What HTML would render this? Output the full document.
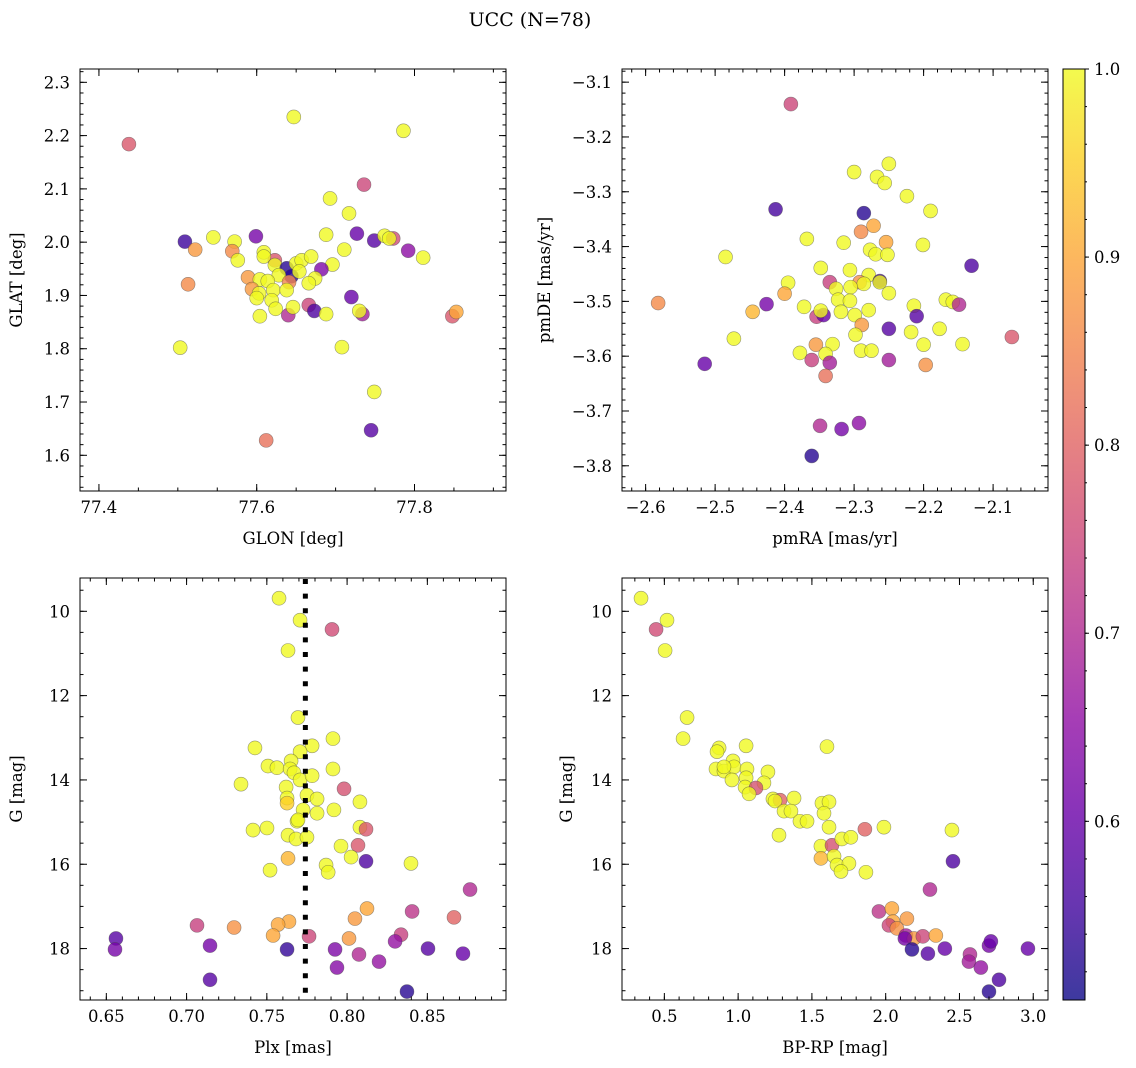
<!DOCTYPE html>
<html><head><meta charset="utf-8"><style>
html,body{margin:0;padding:0;background:#fff}
svg{display:block;font-family:"DejaVu Serif","Liberation Serif",serif}
</style></head><body>
<svg id="fig" width="1136" height="1068" viewBox="0 0 1136 1068" xmlns="http://www.w3.org/2000/svg">
<text x="530" y="26" text-anchor="middle" font-size="19">UCC (N=78)</text>
</svg>
<script>
// ---- data: top-left (GLON/GLAT)
const tlLon=[77.438,77.647,77.786,77.736,77.693,77.717,77.509,77.522,77.545,77.572,77.569,77.576,77.599,77.688,77.727,77.749,77.762,77.773,77.768,77.792,77.811,77.711,77.696,77.682,77.609,77.623,77.623,77.638,77.644,77.650,77.657,77.669,77.654,77.674,77.666,77.628,77.641,77.589,77.604,77.594,77.603,77.600,77.614,77.621,77.638,77.619,77.624,77.640,77.646,77.666,77.673,77.688,77.604,77.720,77.734,77.730,77.848,77.853,77.503,77.708,77.749,77.745,77.612,77.513,77.609];
const tlLat=[2.184,2.235,2.209,2.108,2.082,2.054,2.001,1.986,2.009,2.001,1.983,1.966,2.011,2.014,2.016,2.003,2.012,2.007,2.007,1.984,1.971,1.986,1.958,1.949,1.981,1.966,1.957,1.951,1.936,1.960,1.966,1.973,1.945,1.932,1.923,1.938,1.925,1.934,1.930,1.912,1.904,1.895,1.927,1.910,1.910,1.891,1.875,1.863,1.878,1.882,1.871,1.865,1.861,1.897,1.865,1.871,1.861,1.869,1.802,1.803,1.719,1.647,1.628,1.921,1.973];
const tlProb=[0.78,1,1,0.75,1,1,0.55,0.88,1,1,0.86,1,0.62,1,0.6,0.58,1,0.76,1,0.65,1,1,1,0.63,1,0.78,1,0.53,0.53,1,1,1,1,1,1,1,0.85,0.88,1,0.88,1,1,1,1,1,1,1,0.7,1,0.75,0.57,1,1,0.6,0.68,1,0.78,0.9,1,1,1,0.58,0.82,0.86,1];
// ---- data: top-right (pmRA/pmDE)
const trRA=[-2.391,-2.300,-2.250,-2.267,-2.256,-2.224,-2.190,-2.413,-2.286,-2.290,-2.272,-2.368,-2.315,-2.254,-2.277,-2.269,-2.252,-2.201,-2.485,-2.131,-2.348,-2.306,-2.279,-2.263,-2.263,-2.335,-2.292,-2.286,-2.395,-2.400,-2.326,-2.305,-2.250,-2.323,-2.306,-2.426,-2.582,-2.446,-2.372,-2.354,-2.344,-2.348,-2.319,-2.299,-2.279,-2.289,-2.214,-2.210,-2.168,-2.158,-2.149,-2.250,-2.177,-2.218,-2.473,-2.073,-2.298,-2.355,-2.331,-2.200,-2.144,-2.378,-2.341,-2.290,-2.275,-2.361,-2.335,-2.250,-2.515,-2.197,-2.341,-2.349,-2.318,-2.293,-2.361];
const trDE=[-3.140,-3.264,-3.249,-3.273,-3.284,-3.308,-3.335,-3.332,-3.339,-3.373,-3.362,-3.386,-3.393,-3.392,-3.406,-3.414,-3.415,-3.397,-3.419,-3.435,-3.439,-3.443,-3.452,-3.463,-3.465,-3.465,-3.465,-3.468,-3.466,-3.486,-3.477,-3.474,-3.485,-3.497,-3.499,-3.505,-3.503,-3.519,-3.510,-3.528,-3.525,-3.517,-3.519,-3.525,-3.516,-3.543,-3.508,-3.527,-3.497,-3.501,-3.506,-3.550,-3.550,-3.556,-3.568,-3.565,-3.561,-3.579,-3.578,-3.579,-3.578,-3.594,-3.596,-3.590,-3.590,-3.607,-3.612,-3.607,-3.614,-3.616,-3.636,-3.727,-3.733,-3.722,-3.782];
const trProb=[0.75,1,1,1,1,1,1,0.56,0.53,0.86,0.9,1,1,0.9,1,1,1,1,1,0.57,1,1,1,0.56,1,0.74,0.87,1,1,0.9,1,1,1,1,1,0.62,0.86,0.92,1,0.74,0.6,1,1,1,1,0.88,1,0.58,1,1,0.7,0.58,1,1,1,0.78,1,0.88,1,1,1,1,1,1,1,0.74,0.68,0.68,0.6,0.87,0.82,0.7,0.62,0.65,0.53];
// ---- data: bottom-left (Plx/G)
const blPlx=[0.7576,0.7707,0.7906,0.7632,0.7694,0.7912,0.7782,0.7426,0.7707,0.7507,0.7563,0.7651,0.7645,0.7669,0.7912,0.7707,0.7782,0.7339,0.7620,0.7981,0.7626,0.7750,0.7813,0.7626,0.7726,0.7918,0.8080,0.7813,0.7688,0.7694,0.7414,0.7501,0.8080,0.8118,0.7632,0.7682,0.7750,0.7962,0.8068,0.8025,0.7632,0.8118,0.8398,0.7869,0.7882,0.7520,0.8766,0.8124,0.8405,0.8049,0.8666,0.7638,0.7570,0.7065,0.7296,0.7539,0.7763,0.8012,0.8336,0.8299,0.6560,0.6554,0.7146,0.7626,0.7925,0.8504,0.8722,0.8074,0.8199,0.7937,0.7146,0.8373];
const blG=[9.69,10.21,10.43,10.93,12.52,13.02,13.19,13.24,13.33,13.67,13.71,13.55,13.74,13.83,13.74,14.0,13.90,14.10,14.17,14.21,14.43,14.36,14.45,14.55,14.71,14.71,14.52,14.79,14.98,14.95,15.19,15.14,15.12,15.17,15.31,15.40,15.36,15.57,15.55,15.83,15.86,15.93,15.98,16.02,16.19,16.14,16.60,17.05,17.12,17.29,17.26,17.36,17.43,17.45,17.50,17.69,17.71,17.76,17.67,17.83,17.76,18.02,17.93,18.02,18.02,18.0,18.12,18.14,18.31,18.45,18.74,19.02];
const blProb=[1,1,0.76,1,1,1,1,1,1,1,1,1,1,1,1,1,1,1,1,0.77,1,1,1,0.95,1,1,1,1,1,1,1,1,1,0.78,1,1,1,1,0.78,1,0.92,0.57,1,1,1,1,0.7,0.9,0.72,0.88,0.8,0.9,0.9,0.74,0.87,0.9,0.75,0.88,0.74,0.66,0.58,0.62,0.62,0.54,0.63,0.58,0.6,0.7,0.66,0.64,0.58,0.53];
const plxMean=[0.774];
// ---- data: bottom-right (BP-RP/G)
const brCol=[0.342,0.518,0.444,0.505,0.654,0.627,0.871,1.054,1.602,0.857,0.965,0.850,0.904,0.972,1.060,0.904,1.202,0.958,1.054,1.175,1.047,1.121,1.074,1.236,1.284,1.250,1.379,1.311,1.358,1.419,1.467,1.568,1.616,1.582,1.277,1.616,1.859,1.988,2.449,1.561,1.636,1.703,1.764,1.561,1.650,1.670,1.751,1.697,1.866,2.456,2.300,1.954,2.042,2.144,2.049,2.022,2.076,2.137,2.191,2.252,2.340,2.130,2.178,2.286,2.401,2.571,2.564,2.645,2.700,2.713,2.964,2.768,2.700];
const brG=[9.69,10.21,10.43,10.93,12.52,13.02,13.24,13.19,13.21,13.33,13.55,13.74,13.79,13.69,13.74,13.69,13.81,14.00,13.95,14.07,14.17,14.19,14.33,14.45,14.48,14.50,14.43,14.74,14.74,14.98,14.98,14.55,14.52,14.79,15.31,15.12,15.17,15.12,15.19,15.57,15.55,15.40,15.36,15.86,15.81,16.02,15.98,16.17,16.19,15.93,16.60,17.12,17.05,17.29,17.36,17.45,17.52,17.69,17.76,17.71,17.69,17.76,18.02,18.12,18.00,18.14,18.31,18.45,17.93,17.83,18.00,18.74,19.02];
const brProb=[1,1,0.76,1,1,1,1,1,1,1,1,1,1,1,1,1,1,1,1,1,1,0.77,1,1,0.8,1,1,1,1,1,1,1,1,1,1,1,0.8,1,1,1,0.77,1,1,0.92,1,1,1,1,1,0.57,0.7,0.72,0.9,0.88,0.9,0.75,0.87,0.68,0.88,0.75,0.9,0.62,0.53,0.58,0.6,0.7,0.68,0.66,0.62,0.6,0.6,0.57,0.53];
// ---- colorbar
const cbTicks=[0.6,0.7,0.8,0.9,1.0];
const cbMin=0.505, cbMax=1.0;

const NS="http://www.w3.org/2000/svg";
const svg=document.getElementById('fig');
function mk(tag,attrs,parent){const e=document.createElementNS(NS,tag);for(const k in attrs)e.setAttribute(k,attrs[k]);(parent||svg).appendChild(e);return e;}
const plasma=[[13,8,135],[65,4,157],[106,0,168],[143,13,164],[177,42,144],[204,71,120],[225,100,98],[242,132,75],[252,166,54],[252,206,37],[240,249,33]];
function cmap(p){let t=(p-cbMin)/(cbMax-cbMin);t=Math.max(0,Math.min(1,t));const f=t*10;const i=Math.min(9,Math.floor(f));const r=f-i;const a=plasma[i],b=plasma[i+1];return `rgb(${Math.round(a[0]+(b[0]-a[0])*r)},${Math.round(a[1]+(b[1]-a[1])*r)},${Math.round(a[2]+(b[2]-a[2])*r)})`;}
function lin(d0,d1,r0,r1){return v=>r0+(v-d0)/(d1-d0)*(r1-r0);}
function fmt(v,dec){let s=v.toFixed(dec);if(v<0)s='\u2212'+s.slice(1);return s;}

function panel(cfg){
  const {name,x0,y0,x1,y1,xd,yd,xMaj,xMin,yMaj,yMin,xDec,yDec,xLabel,yLabel}=cfg;
  const sx=lin(xd[0],xd[1],x0,x1), sy=lin(yd[0],yd[1],y1,y0);
  const g=mk('g',{});
  
  
  const clip=mk('clipPath',{id:'clip-'+name},g);mk('rect',{x:x0,y:y0,width:x1-x0,height:y1-y0},clip);
  const pts=mk('g',{'clip-path':'url(#clip-'+name+')'},g);
  
  
  cfg.pts=pts;cfg.sx=sx;cfg.sy=sy;
  const ax=mk('g',{stroke:'#000','stroke-width':1},g);
  
  
  function tks(vals,len){
    vals.forEach(v=>{const X=sx(v);if(X<x0-0.1||X>x1+0.1)return;mk('line',{x1:X,y1:y1,x2:X,y2:y1-len},ax);mk('line',{x1:X,y1:y0,x2:X,y2:y0+len},ax);});
  }
  function tky(vals,len){
    vals.forEach(v=>{const Y=sy(v);if(Y<y0-0.1||Y>y1+0.1)return;mk('line',{x1:x0,y1:Y,x2:x0+len,y2:Y},ax);mk('line',{x1:x1,y1:Y,x2:x1-len,y2:Y},ax);});
  }
  tks(xMin,3.5);tks(xMaj,7);tky(yMin,3.5);tky(yMaj,7);
  mk('rect',{x:x0,y:y0,width:x1-x0,height:y1-y0,fill:'none'},ax);
  xMaj.forEach(v=>{const X=sx(v);if(X<x0||X>x1)return;const t=mk('text',{x:X,y:y1+22,'text-anchor':'middle','font-size':16.5});t.textContent=fmt(v,xDec);
    
    });
  yMaj.forEach(v=>{const Y=sy(v);if(Y<y0||Y>y1)return;const t=mk('text',{x:x0-10,y:Y+6,'text-anchor':'end','font-size':16.5});t.textContent=fmt(v,yDec);
    
    });
  const xl=mk('text',{x:(x0+x1)/2,y:y1+53,'text-anchor':'middle','font-size':16.5});xl.textContent=xLabel;
  
  
  const yl=mk('text',{x:0,y:0,'text-anchor':'middle','font-size':16.5,transform:`translate(${cfg.ylx},${(y0+y1)/2}) rotate(-90)`});yl.textContent=yLabel;
  
  
  return cfg;
}
function range(a,b,s){const r=[];for(let v=a;v<=b+1e-9;v+=s)r.push(Math.round(v*1e6)/1e6);return r;}
function scatter(cfg,xs,ys,ps){
  const idx=xs.map((_,i)=>i).slice(0,Math.min(xs.length,ys.length,ps.length));
  idx.forEach(i=>{
    const c=mk('circle',{cx:cfg.sx(xs[i]),cy:cfg.sy(ys[i]),r:7,fill:cmap(ps[i]),'fill-opacity':0.8,stroke:'rgba(70,70,70,0.55)','stroke-width':0.6},cfg.pts);
    
    
  });
}
const TL=panel({name:'glon-glat',x0:80,y0:69,x1:506,y1:491,xd:[77.376,77.916],yd:[1.533,2.325],xMaj:range(77.4,77.8,0.2),xMin:range(77.35,77.95,0.05),yMaj:range(1.6,2.3,0.1),yMin:range(1.54,2.32,0.02),xDec:1,yDec:1,xLabel:'GLON [deg]',yLabel:'GLAT [deg]',ylx:22});
const TR=panel({name:'pm',x0:622,y0:69,x1:1048,y1:491,xd:[-2.634,-2.021],yd:[-3.846,-3.076],xMaj:range(-2.6,-2.1,0.1),xMin:range(-2.64,-2.02,0.02),yMaj:range(-3.8,-3.1,0.1),yMin:range(-3.84,-3.08,0.02),xDec:1,yDec:1,xLabel:'pmRA [mas/yr]',yLabel:'pmDE [mas/yr]',ylx:550});
const BL=panel({name:'plx-g',x0:80,y0:578,x1:506,y1:1000,xd:[0.6336,0.899],yd:[19.22,9.21],xMaj:range(0.65,0.85,0.05),xMin:range(0.64,0.89,0.01),yMaj:range(10,18,2),yMin:range(9.5,19,0.5),xDec:2,yDec:0,xLabel:'Plx [mas]',yLabel:'G [mag]',ylx:22});
const BR=panel({name:'cmd',x0:622,y0:578,x1:1048,y1:1000,xd:[0.213,3.1],yd:[19.22,9.21],xMaj:range(0.5,3.0,0.5),xMin:range(0.3,3.1,0.1),yMaj:range(10,18,2),yMin:range(9.5,19,0.5),xDec:1,yDec:0,xLabel:'BP-RP [mag]',yLabel:'G [mag]',ylx:572});
scatter(TL,tlLon,tlLat,tlProb);
scatter(TR,trRA,trDE,trProb);
scatter(BL,blPlx,blG,blProb);
scatter(BR,brCol,brG,brProb);
// parallax mean line
const pl=mk('line',{x1:BL.sx(plxMean[0]),x2:BL.sx(plxMean[0]),y1:579,y2:1000,stroke:'#000','stroke-width':5,'stroke-dasharray':'5 9.6'});


// colorbar
const cx0=1063,cx1=1085,cy0=69,cy1=1000;
const defs=mk('defs',{});
const lg=mk('linearGradient',{id:'cbg',x1:0,y1:1,x2:0,y2:0},defs);
for(let k=0;k<=20;k++){mk('stop',{offset:(k/20),'stop-color':cmap(cbMin+(cbMax-cbMin)*k/20)},lg);}
const cbr=mk('rect',{x:cx0,y:cy0,width:cx1-cx0,height:cy1-cy0,fill:'url(#cbg)','fill-opacity':0.8});


mk('rect',{x:cx0,y:cy0,width:cx1-cx0,height:cy1-cy0,fill:'none',stroke:'#000','stroke-width':1});
const cs=lin(cbMin,cbMax,cy1,cy0);
cbTicks.forEach(v=>{const Y=cs(v);mk('line',{x1:cx1,x2:cx1+4,y1:Y,y2:Y,stroke:'#000'});
  const t=mk('text',{x:cx1+9,y:Y+6,'font-size':16.5});t.textContent=v.toFixed(1);
  
  });
range(0.52,0.98,0.02).forEach(v=>{const Y=cs(v);mk('line',{x1:cx1,x2:cx1+2,y1:Y,y2:Y,stroke:'#000'});});
</script>
</body></html>
